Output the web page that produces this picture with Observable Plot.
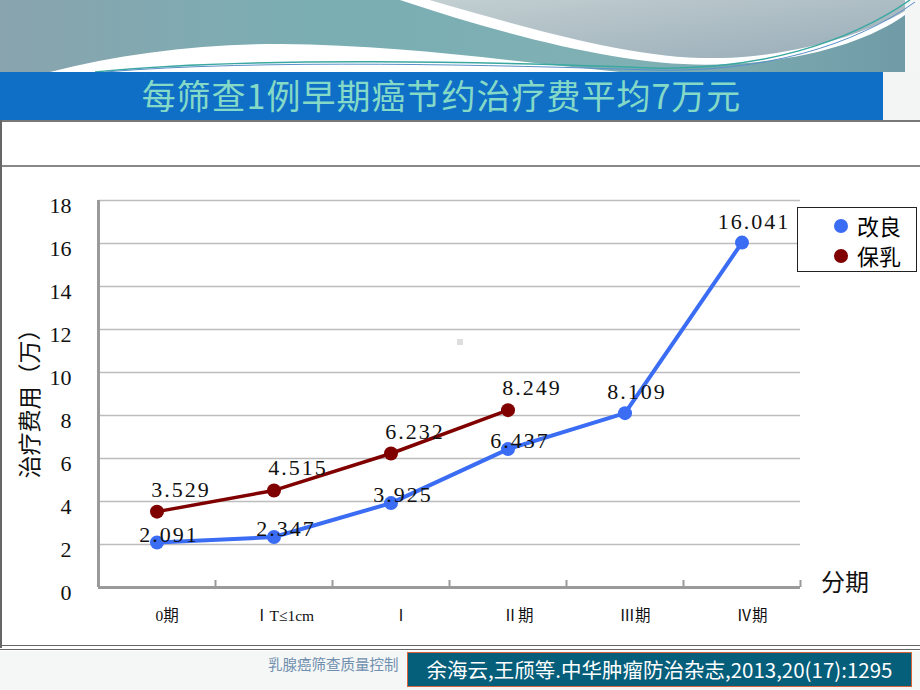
<!DOCTYPE html>
<html>
<head>
<meta charset="utf-8">
<script src="https://cdn.jsdelivr.net/npm/d3@7"></script>
<script src="https://cdn.jsdelivr.net/npm/@observablehq/plot@0.6"></script>
<style>
  html, body { margin: 0; padding: 0; }
  body { width: 920px; height: 690px; position: relative; overflow: hidden; background: #ffffff; font-family: "Liberation Serif", "Noto Sans CJK SC", serif; }
  .abs { position: absolute; }
  #title { left: 0; top: 72px; width: 883px; height: 48px; background: #0f6fc6; color: #84dac6;
           font-family: "Noto Sans CJK SC", sans-serif; font-size: 34px; font-weight: 400; line-height: 46px;
           text-align: center; letter-spacing: 1px; }
  #chart { left: 0; top: 0; }
  #legend { left: 797px; top: 207px; width: 118px; height: 63px; border: 1px solid #222; background: #fff; }
  .li { position: absolute; left: 0; width: 118px; height: 30px; font-family: "Noto Sans CJK SC", sans-serif; font-size: 22px; line-height: 30px; }
  .li span.dot { position: absolute; left: 36px; top: 8px; width: 14px; height: 14px; border-radius: 7px; }
  .li span.t { position: absolute; left: 59px; top: -1px; }
  #ylabel { left: 28px; top: 398px; transform: translate(-50%, -50%) rotate(-90deg); white-space: nowrap;
            font-family: "Noto Sans CJK SC", sans-serif; font-size: 23px; color: #111; }
  #xname { left: 821px; top: 563px; font-family: "Noto Sans CJK SC", sans-serif; font-size: 24px; color: #111; }
  #foot-small { left: 268px; top: 653px; font-family: "Noto Sans CJK SC", sans-serif; font-size: 14.5px; color: #6f8fae; }
  #foot-box { left: 407px; top: 652px; width: 503px; height: 33px; background: #055e7a; border: 1px solid #d9643a;
              color: #fff; font-family: "Noto Sans CJK SC", sans-serif; font-size: 20.5px; line-height: 32px; text-align: center; white-space: nowrap; }
</style>
</head>
<body>
<svg class="abs" style="left:0;top:0" width="920" height="72" viewBox="0 0 920 72">
  <defs>
    <linearGradient id="bg" x1="0" y1="0" x2="1" y2="0">
      <stop offset="0" stop-color="#89a4ae"/>
      <stop offset="0.35" stop-color="#7aaeb3"/>
      <stop offset="0.7" stop-color="#7fb0b4"/>
      <stop offset="1" stop-color="#6f9aa6"/>
    </linearGradient>
    <linearGradient id="gr" x1="0" y1="0" x2="1" y2="1">
      <stop offset="0" stop-color="#c3cfd1"/>
      <stop offset="1" stop-color="#98acb8"/>
    </linearGradient>
  </defs>
  <rect x="0" y="0" width="920" height="72" fill="url(#bg)"/>
  <path d="M430 0 C 540 34, 640 60, 720 58 C 800 56, 870 35, 905 12 L 905 0 Z" fill="url(#gr)"/>
  <path d="M400 0 C 520 40, 640 70, 730 64 C 810 60, 870 40, 905 15 L 905 11 C 870 32, 800 56, 720 58 C 640 60, 540 32, 430 0 Z" fill="#ffffff"/>
  <rect x="905" y="0" width="15" height="72" fill="#f4f6f6"/>
  <path d="M50 72 C 120 54, 200 44, 280 44 C 400 45, 500 60, 620 72 Z" fill="#ffffff"/>
  <path d="M95 72 C 250 56, 500 62, 650 68 C 760 71, 850 42, 910 0" fill="none" stroke="#3aa8a0" stroke-width="1.5"/>
  <path d="M105 72 C 260 59, 500 65, 650 70 C 765 73, 855 45, 915 2" fill="none" stroke="#5a8fc8" stroke-width="1"/>
</svg>
<div id="title" class="abs">每筛查1例早期癌节约治疗费平均7万元</div>
<div class="abs" style="left:883px;top:72px;width:37px;height:48px;background:#f3f5f5"></div>
<!-- frame lines -->
<div class="abs" style="left:0;top:120px;width:920px;height:2px;background:#777"></div>
<div class="abs" style="left:0;top:165px;width:920px;height:2px;background:#888"></div>
<div class="abs" style="left:0;top:120px;width:2px;height:528px;background:#666"></div>
<div class="abs" style="left:0;top:645px;width:920px;height:1px;background:#666"></div>
<div class="abs" style="left:0;top:649px;width:920px;height:1px;background:#666"></div>
<div class="abs" style="left:0;top:651px;width:920px;height:39px;background:#f5f6f6"></div>
<div class="abs" style="left:457px;top:339px;width:6px;height:6px;background:#dedede"></div>

<div id="chart" class="abs"></div>
<div id="ylabel" class="abs">治疗费用（万）</div>
<div id="xname" class="abs">分期</div>
<div id="legend" class="abs"></div>
<div id="foot-small" class="abs">乳腺癌筛查质量控制</div>
<div id="foot-box" class="abs">余海云,王颀等.中华肿瘤防治杂志,2013,20(17):1295</div>

<script>
// ---- data ----
const categories = ["0期", "ⅠT≤1cm", "Ⅰ", "Ⅱ期", "Ⅲ期", "Ⅳ期"];
const series = ["改良", "保乳"];
const gailiang = [2.091, 2.347, 3.925, 6.437, 8.109, 16.041];
const baoru = [3.529, 4.515, 6.232, 8.249];
const yTicks = [0, 2, 4, 6, 8, 10, 12, 14, 16, 18];

// ---- styles ----
const colors = ["#3a6cf4", "#800000"];
const serif = "Liberation Serif, Noto Sans CJK SC, serif";

const blue = gailiang.map((v, i) => ({i, x: i + 0.5, v, s: series[0], label: v.toFixed(3)}));
const red = baoru.map((v, i) => ({i, x: i + 0.5, v, s: series[1], label: v.toFixed(3)}));

const plot = Plot.plot({
  width: 920,
  height: 690,
  marginLeft: 98,
  marginRight: 120,
  marginTop: 200,
  marginBottom: 103,
  style: {background: "transparent", overflow: "visible", fontFamily: serif, color: "#111"},
  x: {type: "linear", domain: [0, categories.length], axis: null, label: null},
  y: {domain: [0, 18], axis: null, label: null},
  marks: [
    Plot.gridY(yTicks, {stroke: "#bdbdbd", strokeOpacity: 1, strokeWidth: 1.5}),
    Plot.axisY(yTicks, {tickSize: 0, tickPadding: 27, fontSize: 22, dy: 5, label: null}),
    Plot.axisX(d3.range(1, categories.length + 1), {tickSize: -7, tickFormat: () => "", stroke: "#9a9a9a", strokeWidth: 2, label: null}),
    Plot.axisX(categories.map((c, i) => i + 0.5), {tickSize: 0, tickPadding: 22, fontSize: 15.5, dx: 10, label: null,
      tickFormat: d => categories[Math.round(d - 0.5)]}),
    Plot.ruleX([0], {stroke: "#9a9a9a", strokeWidth: 3}),
    Plot.ruleY([0], {stroke: "#9a9a9a", strokeWidth: 3}),
    Plot.line(red, {x: "x", y: "v", stroke: colors[1], strokeWidth: 3.5}),
    Plot.dot(red, {x: "x", y: "v", r: 7, fill: colors[1]}),
    Plot.line(blue, {x: "x", y: "v", stroke: colors[0], strokeWidth: 4}),
    Plot.dot(blue, {x: "x", y: "v", r: 7, fill: colors[0]}),
    Plot.text(red, {x: "x", y: "v", text: "label", dx: 24, dy: -22, fontSize: 22, fill: "#111"}),
    Plot.text(blue.filter(d => d.i < 4), {x: "x", y: "v", text: "label", dx: 12, dy: -8, fontSize: 22, fill: "#111"}),
    Plot.text(blue.filter(d => d.i >= 4), {x: "x", y: "v", text: "label", dx: 12, dy: -21, fontSize: 22, fill: "#111"})
  ]
});
d3.select(plot).selectAll('g[aria-label="text"] text').attr("letter-spacing", "2");
document.getElementById("chart").appendChild(plot);

// legend
const lg = document.getElementById("legend");
series.forEach((s, i) => {
  const row = document.createElement("div");
  row.className = "li";
  row.style.top = (3 + i * 30) + "px";
  row.innerHTML = `<span class="dot" style="background:${colors[i]}"></span><span class="t">${s}</span>`;
  lg.appendChild(row);
});
</script>
</body>
</html>
